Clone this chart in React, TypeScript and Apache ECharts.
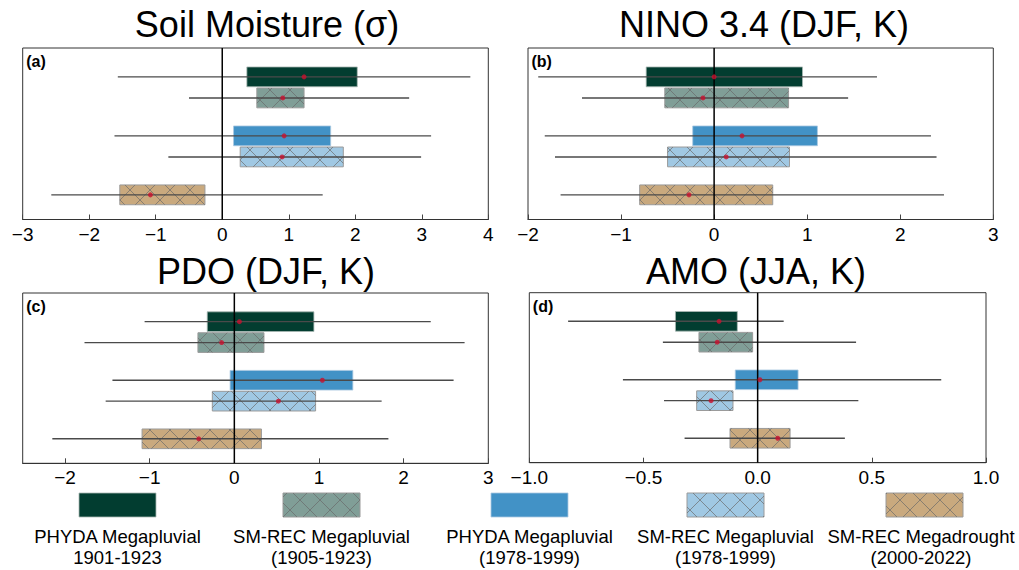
import React, { useEffect, useRef } from "react";
import * as echarts from "echarts";

const FONT = '"Liberation Sans", Arial, Helvetica, sans-serif';

const GROUP_LINE1 = ["PHYDA Megapluvial", "SM-REC Megapluvial", "PHYDA Megapluvial", "SM-REC Megapluvial", "SM-REC Megadrought"];
const GROUP_LINE2 = ["1901-1923", "(1905-1923)", "(1978-1999)", "(1978-1999)", "(2000-2022)"];
const ROW_POS = [0, 1, 2.8, 3.8, 5.6];

// (a) Soil moisture
const SM_WLO = [-1.57, -0.5, -1.62, -0.81, -2.57];
const SM_WHI = [3.73, 2.81, 3.14, 2.99, 1.51];
const SM_BLO = [0.37, 0.52, 0.17, 0.27, -1.54];
const SM_BHI = [2.03, 1.23, 1.63, 1.82, -0.26];
const SM_MEAN = [1.23, 0.91, 0.93, 0.9, -1.08];
const SM_TICKS = [-3, -2, -1, 0, 1, 2, 3, 4];

// (b) NINO 3.4
const NI_WLO = [-1.89, -1.42, -1.82, -1.71, -1.65];
const NI_WHI = [1.75, 1.44, 2.33, 2.39, 2.47];
const NI_BLO = [-0.73, -0.53, -0.23, -0.5, -0.8];
const NI_BHI = [0.95, 0.8, 1.11, 0.81, 0.63];
const NI_MEAN = [0.0, -0.12, 0.3, 0.13, -0.27];
const NI_TICKS = [-2, -1, 0, 1, 2, 3];

// (c) PDO
const PDO_WLO = [-1.06, -1.77, -1.44, -1.52, -2.15];
const PDO_WHI = [2.32, 2.72, 2.59, 1.74, 1.82];
const PDO_BLO = [-0.32, -0.43, -0.05, -0.26, -1.09];
const PDO_BHI = [0.94, 0.35, 1.4, 0.96, 0.32];
const PDO_MEAN = [0.06, -0.15, 1.04, 0.52, -0.42];
const PDO_TICKS = [-2, -1, 0, 1, 2, 3];

// (d) AMO
const AMO_WLO = [-0.83, -0.415, -0.59, -0.41, -0.32];
const AMO_WHI = [0.114, 0.431, 0.804, 0.441, 0.382];
const AMO_BLO = [-0.36, -0.257, -0.098, -0.267, -0.121];
const AMO_BHI = [-0.089, -0.022, 0.177, -0.108, 0.142];
const AMO_MEAN = [-0.169, -0.177, 0.01, -0.204, 0.088];
const AMO_TICKS = [-1.0, -0.5, 0.0, 0.5, 1.0];

const Y_MIN = -1.37;
const Y_MAX = 6.77;
const BAR_H = 0.94;
const HATCH_D = 20;

const ROW_STYLE = [
  { fill: "#023D30", stroke: "rgba(170,185,180,0.8)", hatch: false },
  { fill: "#809E97", stroke: "#9a9a9a", hatch: true },
  { fill: "#4292C6", stroke: "rgba(170,200,225,0.8)", hatch: false },
  { fill: "#A0C8E3", stroke: "#9a9a9a", hatch: true },
  { fill: "#C9A97E", stroke: "#9a9a9a", hatch: true },
];
const HATCH_COLOR = "rgba(105,105,105,0.75)";

function hatchSegs(x0: number, y0: number, x1: number, y1: number, d: number) {
  const segs: number[][] = [];
  const cMin = Math.floor((x0 + y0) / d) * d;
  for (let c = cMin; c <= x1 + y1; c += d) {
    const a = Math.max(x0, c - y1);
    const b = Math.min(x1, c - y0);
    if (b - a > 0.3) segs.push([a, c - a, b, c - b]);
  }
  const kMin = Math.floor((x0 - y1) / d) * d;
  for (let c = kMin; c <= x1 - y0; c += d) {
    const a = Math.max(x0, y0 + c);
    const b = Math.min(x1, y1 + c);
    if (b - a > 0.3) segs.push([a, a - c, b, b - c]);
  }
  return segs;
}

const renderItem = (params: any, api: any) => {
  const y = api.value(0);
  const idx = api.value(6);
  const lo = api.coord([api.value(1), y]);
  const hi = api.coord([api.value(2), y]);
  const b0 = api.coord([api.value(3), y]);
  const b1 = api.coord([api.value(4), y]);
  const h = Math.abs(api.size([0, BAR_H])[1]);
  const cy = lo[1];
  const x0 = Math.min(b0[0], b1[0]);
  const x1 = Math.max(b0[0], b1[0]);
  const y0 = cy - h / 2;
  const y1 = cy + h / 2;
  const st = ROW_STYLE[idx];
  const children: any[] = [
    {
      type: "rect",
      shape: { x: x0, y: y0, width: x1 - x0, height: h },
      style: { fill: st.fill, stroke: st.stroke, lineWidth: 1 },
    },
  ];
  if (st.hatch) {
    hatchSegs(x0, y0, x1, y1, HATCH_D).forEach((s) =>
      children.push({
        type: "line",
        shape: { x1: s[0], y1: s[1], x2: s[2], y2: s[3] },
        style: { stroke: HATCH_COLOR, lineWidth: 0.9 },
      })
    );
  }
  children.push({
    type: "line",
    shape: { x1: lo[0], y1: cy, x2: hi[0], y2: cy },
    style: { stroke: "#4a4a4a", lineWidth: 1.4 },
  });
  return { type: "group", children };
};

const fmtMinus = (s: string) => s.replace("-", "\u2212");

const PANELS = [
  { title: "Soil Moisture (\u03c3)", tag: "(a)", min: -3, max: 4, interval: 1, custom: false, ticks: SM_TICKS, wlo: SM_WLO, whi: SM_WHI, blo: SM_BLO, bhi: SM_BHI, mean: SM_MEAN, fixed: false,
    grid: { left: 22.7, top: 48, width: 465.6, height: 171.5 }, tx: 267, ty: 24.5 },
  { title: "NINO 3.4 (DJF, K)", tag: "(b)", min: -2, max: 3, interval: 1, custom: false, ticks: NI_TICKS, wlo: NI_WLO, whi: NI_WHI, blo: NI_BLO, bhi: NI_BHI, mean: NI_MEAN, fixed: false,
    grid: { left: 528, top: 48, width: 465.3, height: 171.5 }, tx: 764, ty: 24.5 },
  { title: "PDO (DJF, K)", tag: "(c)", min: -2.5, max: 3, interval: 0.5, custom: true, ticks: PDO_TICKS, wlo: PDO_WLO, whi: PDO_WHI, blo: PDO_BLO, bhi: PDO_BHI, mean: PDO_MEAN, fixed: false,
    grid: { left: 22.7, top: 293, width: 465.6, height: 170.3 }, tx: 266, ty: 271 },
  { title: "AMO (JJA, K)", tag: "(d)", min: -1, max: 1, interval: 0.5, custom: false, ticks: AMO_TICKS, wlo: AMO_WLO, whi: AMO_WHI, blo: AMO_BLO, bhi: AMO_BHI, mean: AMO_MEAN, fixed: true,
    grid: { left: 529.3, top: 292.7, width: 456.7, height: 170 }, tx: 756, ty: 271 },
];

const LEGEND_X = [79, 283, 491, 687, 886];
const LEGEND_W = 77;
const LEGEND_Y = 493;
const LEGEND_H = 24;

export default function App() {
  const ref = useRef<HTMLDivElement>(null);
  useEffect(() => {
    document.body.style.margin = "0";
    if (!ref.current) return;
    const chart = echarts.init(ref.current, undefined, { renderer: "svg" });

    const grids = PANELS.map((p) => ({
      ...p.grid,
      show: true,
      borderColor: "#333",
      borderWidth: 1,
      backgroundColor: "transparent",
      containLabel: false,
    }));
    const xAxes = PANELS.map((p, i) => {
      const tick: any = { show: true, inside: true, length: 5, lineStyle: { color: "#444", width: 1 } };
      const label: any = {
        fontSize: 19,
        fontFamily: FONT,
        color: "#000",
        margin: 5,
        showMinLabel: true,
        showMaxLabel: true,
        formatter: (v: number) => fmtMinus(p.fixed ? v.toFixed(1) : String(v)),
      };
      if (p.custom) {
        tick.customValues = p.ticks;
        label.customValues = p.ticks;
      }
      return {
        gridIndex: i,
        type: "value",
        position: "bottom",
        min: p.min,
        max: p.max,
        interval: p.interval,
        axisLine: { show: true, onZero: false, lineStyle: { color: "#333", width: 1 } },
        splitLine: { show: false },
        axisTick: tick,
        axisLabel: label,
      };
    });
    const yAxes = PANELS.map((p, i) => ({
      gridIndex: i,
      type: "value",
      min: Y_MIN,
      max: Y_MAX,
      inverse: true,
      show: false,
      splitLine: { show: false },
    }));

    const series: any[] = [];
    PANELS.forEach((p, i) => {
      series.push({
        type: "custom",
        xAxisIndex: i,
        yAxisIndex: i,
        renderItem,
        encode: { x: [1, 2, 3, 4, 5], y: 0 },
        data: ROW_POS.map((pos, r) => [pos, p.wlo[r], p.whi[r], p.blo[r], p.bhi[r], p.mean[r], r]),
        z: 2,
        silent: true,
      });
      series.push({
        type: "line",
        xAxisIndex: i,
        yAxisIndex: i,
        data: [[0, Y_MIN], [0, Y_MAX]],
        showSymbol: false,
        symbol: "none",
        lineStyle: { color: "#000", width: 1.5 },
        z: 3,
        silent: true,
      });
      series.push({
        type: "scatter",
        xAxisIndex: i,
        yAxisIndex: i,
        data: ROW_POS.map((pos, r) => [p.mean[r], pos]),
        symbol: "circle",
        symbolSize: 5,
        itemStyle: { color: "#C8102E" },
        z: 5,
        silent: true,
      });
    });

    const graphic: any[] = [];
    PANELS.forEach((p) => {
      graphic.push({
        type: "text",
        style: { text: p.title, x: p.tx, y: p.ty, align: "center", verticalAlign: "middle", fontSize: 36, fontFamily: FONT, fill: "#000" },
      });
      graphic.push({
        type: "text",
        style: { text: p.tag, x: p.grid.left + 3.5, y: p.grid.top + 13.5, align: "left", verticalAlign: "middle", fontSize: 16, fontWeight: "bold", fontFamily: FONT, fill: "#000" },
      });
    });
    LEGEND_X.forEach((lx, i) => {
      const st = ROW_STYLE[i];
      graphic.push({
        type: "rect",
        shape: { x: lx, y: LEGEND_Y, width: LEGEND_W, height: LEGEND_H },
        style: { fill: st.fill, stroke: st.stroke, lineWidth: 1 },
      });
      if (st.hatch) {
        hatchSegs(lx, LEGEND_Y, lx + LEGEND_W, LEGEND_Y + LEGEND_H, HATCH_D).forEach((s) =>
          graphic.push({
            type: "line",
            shape: { x1: s[0], y1: s[1], x2: s[2], y2: s[3] },
            style: { stroke: HATCH_COLOR, lineWidth: 0.9 },
          })
        );
      }
      const cx = Math.min(lx + LEGEND_W / 2, 921);
      graphic.push({
        type: "text",
        style: { text: GROUP_LINE1[i], x: cx, y: 536, align: "center", verticalAlign: "middle", fontSize: 18.5, fontFamily: FONT, fill: "#000" },
      });
      graphic.push({
        type: "text",
        style: { text: GROUP_LINE2[i], x: cx, y: 557, align: "center", verticalAlign: "middle", fontSize: 18.5, fontFamily: FONT, fill: "#000" },
      });
    });

    chart.setOption({
      animation: false,
      backgroundColor: "#fff",
      textStyle: { fontFamily: FONT },
      grid: grids,
      xAxis: xAxes,
      yAxis: yAxes,
      series,
      graphic,
    });
    return () => chart.dispose();
  }, []);
  return <div ref={ref} style={{ width: 1019, height: 570 }} />;
}
